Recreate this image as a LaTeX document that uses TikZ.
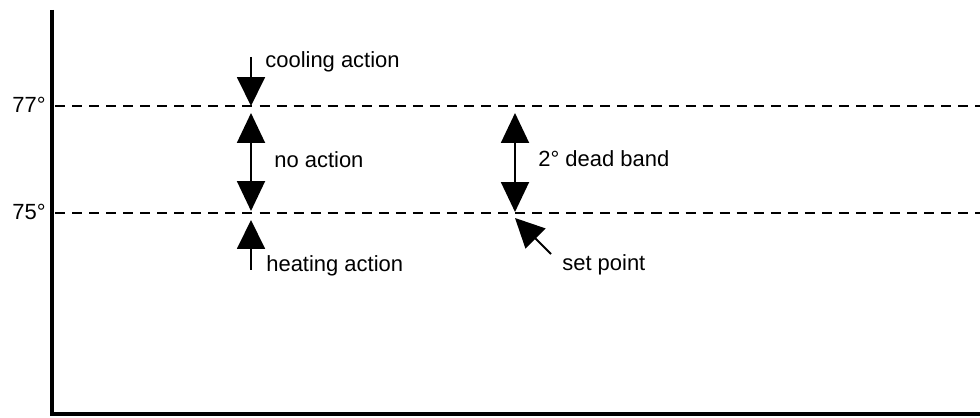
\documentclass[tikz,border=0pt]{standalone}
\usepackage{fontspec}
\setmainfont{Liberation Sans}
\usetikzlibrary{arrows.meta, positioning}

\begin{document}
\begin{tikzpicture}[
    x=0.02cm, y=-0.02cm,
    axis/.style={draw, line width=2.6pt},
    level/.style={draw, line width=1.1pt, dash pattern=on 5.7pt off 4pt},
    arrow/.style={draw, line width=1.1pt, -{Triangle[length=0.58cm, width=0.56cm]}},
    twoway/.style={draw, line width=1.1pt, {Triangle[length=0.6cm, width=0.56cm]}-{Triangle[length=0.6cm, width=0.56cm]}},
    tag/.style={inner sep=0pt, font=\fontsize{12.5}{15}\selectfont}
]
\useasboundingbox (0,0) rectangle (980,418);

% Axes
\coordinate (top) at (52,10);
\coordinate (origin) at (52,414);
\coordinate (right) at (980,414);
\draw[axis] (top) -- (origin) -- (right);

% Levels
\coordinate (hiL) at (55,106); \coordinate (hiR) at (980,106);
\coordinate (loL) at (55,213); \coordinate (loR) at (980,213);
\draw[level] (hiL) -- (hiR);
\draw[level] (loL) -- (loR);
\node[tag, anchor=base east] (hi) at (46,113) {77°};
\node[tag, anchor=base east] (lo) at (46,220) {75°};

% Nodes
\node[tag, anchor=base west] (cool) at (265,68) {cooling action};
\node[tag, anchor=base west] (none) at (274,168) {no action};
\node[tag, anchor=base west] (heat) at (266,272) {heating action};
\node[tag, anchor=base west] (band) at (538,167) {2° dead band};
\node[tag, anchor=base west] (setp) at (562,271) {set point};

% Arrow ends
\coordinate (coolA) at (251,57);  \coordinate (coolB) at (251,106);
\coordinate (noneA) at (251,113); \coordinate (noneB) at (251,211);
\coordinate (heatA) at (251,270); \coordinate (heatB) at (251,220);
\coordinate (bandA) at (515,113); \coordinate (bandB) at (515,212);
\coordinate (setA) at (551,254);  \coordinate (setB) at (515,218);

% Arrows
\draw[arrow] (coolA) -- (coolB);
\draw[twoway] (noneA) -- (noneB);
\draw[arrow] (heatA) -- (heatB);
\draw[twoway] (bandA) -- (bandB);
\draw[arrow] (setA) -- (setB);

\end{tikzpicture}
\end{document}
